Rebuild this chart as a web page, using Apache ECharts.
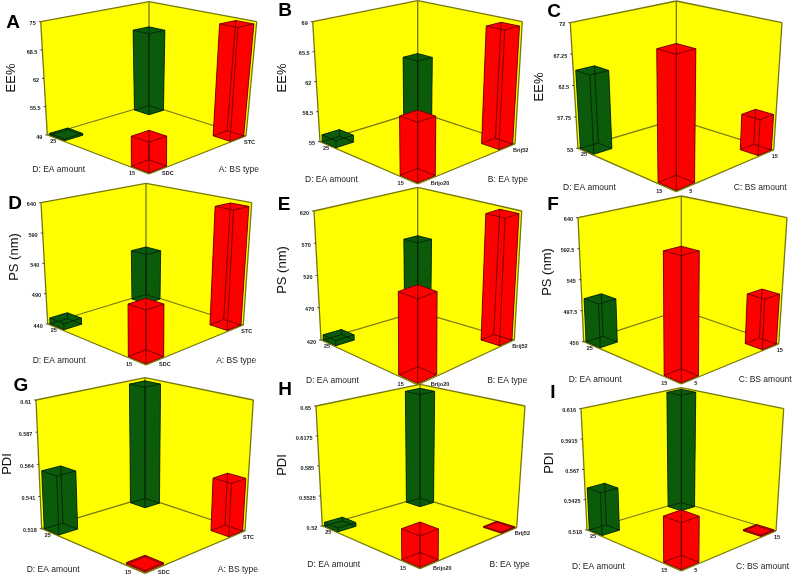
<!DOCTYPE html>
<html>
<head>
<meta charset="utf-8">
<style>
  html, body { margin: 0; background: #fff; }
  #chart { width: 792px; height: 576px; }
</style>
<script src="https://cdn.jsdelivr.net/npm/echarts@6/dist/echarts.min.js"></script>
</head>
<body>
<div id="chart"></div>
<script>
const panelLetters = ['A', 'B', 'C', 'D', 'E', 'F', 'G', 'H', 'I']
const yNames = ['EE%', 'EE%', 'EE%', 'PS (nm)', 'PS (nm)', 'PS (nm)', 'PDI', 'PDI', 'PDI']
const leftNames = Array(9).fill('D: EA amount')
const rightNames = ['A: BS type', 'B: EA type', 'C: BS amount', 'A: BS type', 'B: EA type', 'C: BS amount', 'A: BS type', 'B: EA type', 'C: BS amount']
const yTicks = [
  ['49', '55.5', '62', '68.5', '75'],
  ['55', '58.5', '62', '65.5', '69'],
  ['53', '57.75', '62.5', '67.25', '72'],
  ['440', '490', '540', '590', '640'],
  ['420', '470', '520', '570', '620'],
  ['450', '497.5', '545', '592.5', '640'],
  ['0.518', '0.541', '0.564', '0.587', '0.61'],
  ['0.52', '0.5525', '0.585', '0.6175', '0.65'],
  ['0.518', '0.5425', '0.567', '0.5915', '0.616']
]
const levelD = ['15', '25']
const lowLevels = ['SDC', 'Brijo20', '5', 'SDC', 'Brijo20', '5', 'SDC', 'Brijo20', '5']
const highLevels = ['STC', 'Brij52', '15', 'STC', 'Brij52', '15', 'STC', 'Brij52', '15']

// bar heights, one array per corner of the floor (D level / second factor level)
const d25Low = [49.4, 55.8, 64.8, 450, 428, 516, 0.5594, 0.524, 0.552]
const d25High = [68.8, 62.4, null, 526, 543, null, 0.608, 0.646, 0.615]
const d15Low = [55.2, 61.3, 71.7, 518, 542, 623, 0.519, 0.551, 0.5525]
const d15High = [74.5, 68.5, 58.3, 634, 616, 525, 0.555, 0.521, 0.519]

// screen layout of each cube: wall/floor corners, letter and y name anchors
const layouts = [
  { lt: [40.7, 21.7], lb: [47.3, 135], bt: [149, 1.7], bb: [149, 105], rt: [256.7, 21.7], rb: [246, 136], f: [149, 174], letter: [13, 23], yName: [11, 78] },
  { lt: [312.7, 21.7], lb: [320, 141.7], bt: [417.7, 0.7], bb: [417.7, 111.7], rt: [522.3, 21.7], rb: [515, 144], f: [417.7, 184], letter: [285, 11], yName: [282, 78] },
  { lt: [570.3, 22.7], lb: [578, 148.3], bt: [676.3, 1], bb: [676.3, 119.3], rt: [782, 22.7], rb: [773.7, 150], f: [676.3, 191.7], letter: [554, 12], yName: [539, 87] },
  { lt: [41, 202.7], lb: [47.7, 324], bt: [146, 183.3], bb: [146, 294], rt: [251.7, 202.7], rb: [243.3, 325], f: [146, 365], letter: [15, 204], yName: [14.7, 257] },
  { lt: [314, 211], lb: [321, 340], bt: [417.7, 187.3], bb: [417.7, 311.7], rt: [521.7, 211], rb: [514.3, 340], f: [417.7, 385], letter: [284, 205], yName: [282, 270] },
  { lt: [578, 217.7], lb: [583.7, 341.7], bt: [681.3, 196], bb: [681.3, 310], rt: [787, 217.7], rb: [778.7, 344], f: [681.3, 384], letter: [553, 205], yName: [547, 272] },
  { lt: [36, 400], lb: [41.7, 528.7], bt: [145, 377.7], bb: [145, 497.7], rt: [253.3, 400], rb: [245, 531], f: [145, 573.3], letter: [21, 386], yName: [7, 464] },
  { lt: [316, 406], lb: [322.3, 526], bt: [420, 384.3], bb: [420, 497.7], rt: [525, 406], rb: [516.7, 527.7], f: [420, 568.7], letter: [285, 390], yName: [282, 465] },
  { lt: [581, 408.7], lb: [587, 530], bt: [681.3, 387.7], bb: [681.3, 502], rt: [783.7, 408.7], rb: [776, 531], f: [681.3, 571], letter: [553, 393], yName: [549, 463] }
]

const EDGE = '#77770a'
const RED = '#ff0000'
const GREEN = '#0b5b0b'
const FONT = '"Liberation Sans", Arial, sans-serif'

// unit square to quad, so the floor and ceiling keep their perspective
const quadMap = (p0, p1, p2, p3) => {
  const dx1 = p1[0] - p2[0], dx2 = p3[0] - p2[0], sx = p0[0] - p1[0] + p2[0] - p3[0]
  const dy1 = p1[1] - p2[1], dy2 = p3[1] - p2[1], sy = p0[1] - p1[1] + p2[1] - p3[1]
  const den = dx1 * dy2 - dx2 * dy1
  const g = (sx * dy2 - dx2 * sy) / den
  const h = (dx1 * sy - sx * dy1) / den
  const a = p1[0] - p0[0] + g * p1[0], b = p3[0] - p0[0] + h * p3[0]
  const d = p1[1] - p0[1] + g * p1[1], e = p3[1] - p0[1] + h * p3[1]
  return (u, v) => {
    const w = g * u + h * v + 1
    return [(a * u + b * v + p0[0]) / w, (d * u + e * v + p0[1]) / w]
  }
}

const projectors = layouts.map(l => {
  const leftH = l.lb[1] - l.lt[1]
  const backH = l.bb[1] - l.bt[1]
  const ft = [l.f[0], l.f[1] - 1.04 * leftH * leftH / backH]
  const floor = quadMap(l.f, l.lb, l.bb, l.rb)
  const ceil = quadMap(ft, l.lt, l.bt, l.rt)
  return (u, v, t) => {
    const a = floor(u, v), b = ceil(u, v)
    return [a[0] + (b[0] - a[0]) * t, a[1] + (b[1] - a[1]) * t]
  }
})

const yRange = i => [+yTicks[i][0], +yTicks[i][yTicks[i].length - 1]]

// fraction of the cube height for a value, read through the panel's y axis
const heightOf = (api, i, v) => {
  const [lo, hi] = yRange(i)
  const y0 = api.coord([0, lo])[1]
  const y1 = api.coord([0, hi])[1]
  return (api.coord([0, v])[1] - y0) / (y1 - y0)
}

const seg = (a, b, stroke, lineWidth) => ({
  type: 'line',
  shape: { x1: a[0], y1: a[1], x2: b[0], y2: b[1] },
  style: { stroke, lineWidth }
})

const label = (text, x, y, size, align, extra) => ({
  type: 'text',
  style: { text, x, y, fill: '#1a1a1a', font: size + 'px ' + FONT, textAlign: align, textVerticalAlign: 'middle', ...extra }
})

const renderFrame = i => (params, api) => {
  const l = layouts[i]
  const poly = pts => ({ type: 'polygon', shape: { points: pts }, style: { fill: '#ffff00' } })
  const children = [
    poly([l.lt, l.bt, l.bb, l.lb]),
    poly([l.bt, l.rt, l.rb, l.bb]),
    poly([l.lb, l.bb, l.rb, l.f]),
    seg(l.lt, l.bt, EDGE, 1.3), seg(l.bt, l.rt, EDGE, 1.3),
    seg(l.lt, l.lb, EDGE, 1.3), seg(l.rt, l.rb, EDGE, 1.3),
    seg(l.bt, l.bb, EDGE, 1.3), seg(l.lb, l.bb, EDGE, 1.3), seg(l.bb, l.rb, EDGE, 1.3),
    seg(l.lb, l.f, EDGE, 1.3), seg(l.f, l.rb, EDGE, 1.3)
  ]
  yTicks[i].forEach(tick => {
    const t = heightOf(api, i, +tick)
    const x = l.lb[0] + (l.lt[0] - l.lb[0]) * t
    const y = l.lb[1] + (l.lt[1] - l.lb[1]) * t
    children.push(seg([x - 2, y], [x, y], '#222', 0.8))
    children.push(label(tick, x - 5, y + 2, 5.5, 'right', { font: 'bold 5.5px ' + FONT }))
  })
  children.push(label(levelD[1], l.lb[0] + 3, l.lb[1] + 6.5, 5.5, 'left', { font: 'bold 5.5px ' + FONT }))
  children.push(label(levelD[0], l.f[0] - 14, l.f[1] - 0.5, 5.5, 'right', { font: 'bold 5.5px ' + FONT }))
  children.push(label(lowLevels[i], l.f[0] + 13, l.f[1] - 0.5, 5.5, 'left', { font: 'bold 5.5px ' + FONT }))
  children.push(label(highLevels[i], l.rb[0] - 2, l.rb[1] + 6, 5.5, 'left', { font: 'bold 5.5px ' + FONT }))
  children.push(label(leftNames[i], l.lb[0] - 15, l.f[1] - 4, 8.5, 'left'))
  children.push(label(rightNames[i], l.rb[0] + 13, l.f[1] - 4, 8.5, 'right'))
  children.push(label(panelLetters[i], l.letter[0], l.letter[1], 19, 'center', { font: 'bold 19px ' + FONT, fill: '#000' }))
  children.push({
    type: 'text',
    x: l.yName[0],
    y: l.yName[1],
    rotation: Math.PI / 2,
    style: { text: yNames[i], fill: '#111', font: '13px ' + FONT, textAlign: 'center', textVerticalAlign: 'middle' }
  })
  return { type: 'group', children }
}

// bar footprint inset from its floor corner
const NEAR = 0.012
const FAR = 0.172

const renderBar = i => (params, api) => {
  const project = projectors[i]
  const dLevel = api.value(0)
  const sideLevel = api.value(2)
  const t = heightOf(api, i, api.value(1))
  const u0 = dLevel ? 1 - FAR : NEAR, u1 = dLevel ? 1 - NEAR : FAR
  const v0 = sideLevel ? 1 - FAR : NEAR, v1 = sideLevel ? 1 - NEAR : FAR
  const ring = h => [project(u0, v0, h), project(u1, v0, h), project(u1, v1, h), project(u0, v1, h)]
  const bottom = ring(0)
  const top = ring(t)
  const fill = dLevel ? GREEN : RED
  const line = dLevel ? '#031f03' : '#5a0000'
  const children = []
  const face = pts => children.push({ type: 'polygon', shape: { points: pts }, style: { fill } })
  face(bottom)
  face(top)
  for (let k = 0; k < 4; k++) {
    const n = (k + 1) % 4
    face([bottom[k], bottom[n], top[n], top[k]])
  }
  for (let k = 0; k < 4; k++) {
    const n = (k + 1) % 4
    children.push(seg(bottom[k], bottom[n], line, 0.8))
    children.push(seg(top[k], top[n], line, 0.8))
    children.push(seg(bottom[k], top[k], line, 0.8))
  }
  return { type: 'group', children }
}

const grid = [], xAxis = [], yAxis = [], series = []
layouts.forEach((l, i) => {
  const [lo, hi] = yRange(i)
  grid.push({ left: l.lt[0], top: l.bt[1], width: l.rt[0] - l.lt[0], height: l.f[1] - l.bt[1] })
  xAxis.push({ gridIndex: i, type: 'value', min: 0, max: 1, show: false })
  yAxis.push({ gridIndex: i, type: 'value', min: lo, max: hi, show: false })
  series.push({
    type: 'custom', xAxisIndex: i, yAxisIndex: i, silent: true, z: 2 + i * 2,
    renderItem: renderFrame(i), data: [[0, lo]]
  })
  // painter's order: back corner, then the sides, then the front corner
  const bars = [[1, d25High[i], 1], [1, d25Low[i], 0], [0, d15High[i], 1], [0, d15Low[i], 0]]
    .filter(b => b[1] !== null)
  series.push({
    type: 'custom', xAxisIndex: i, yAxisIndex: i, silent: true, z: 3 + i * 2,
    encode: { x: 0, y: 1 }, renderItem: renderBar(i), data: bars
  })
})

const chart = echarts.init(document.getElementById('chart'))
chart.setOption({ animation: false, backgroundColor: '#fff', grid, xAxis, yAxis, series })
</script>
</body>
</html>
